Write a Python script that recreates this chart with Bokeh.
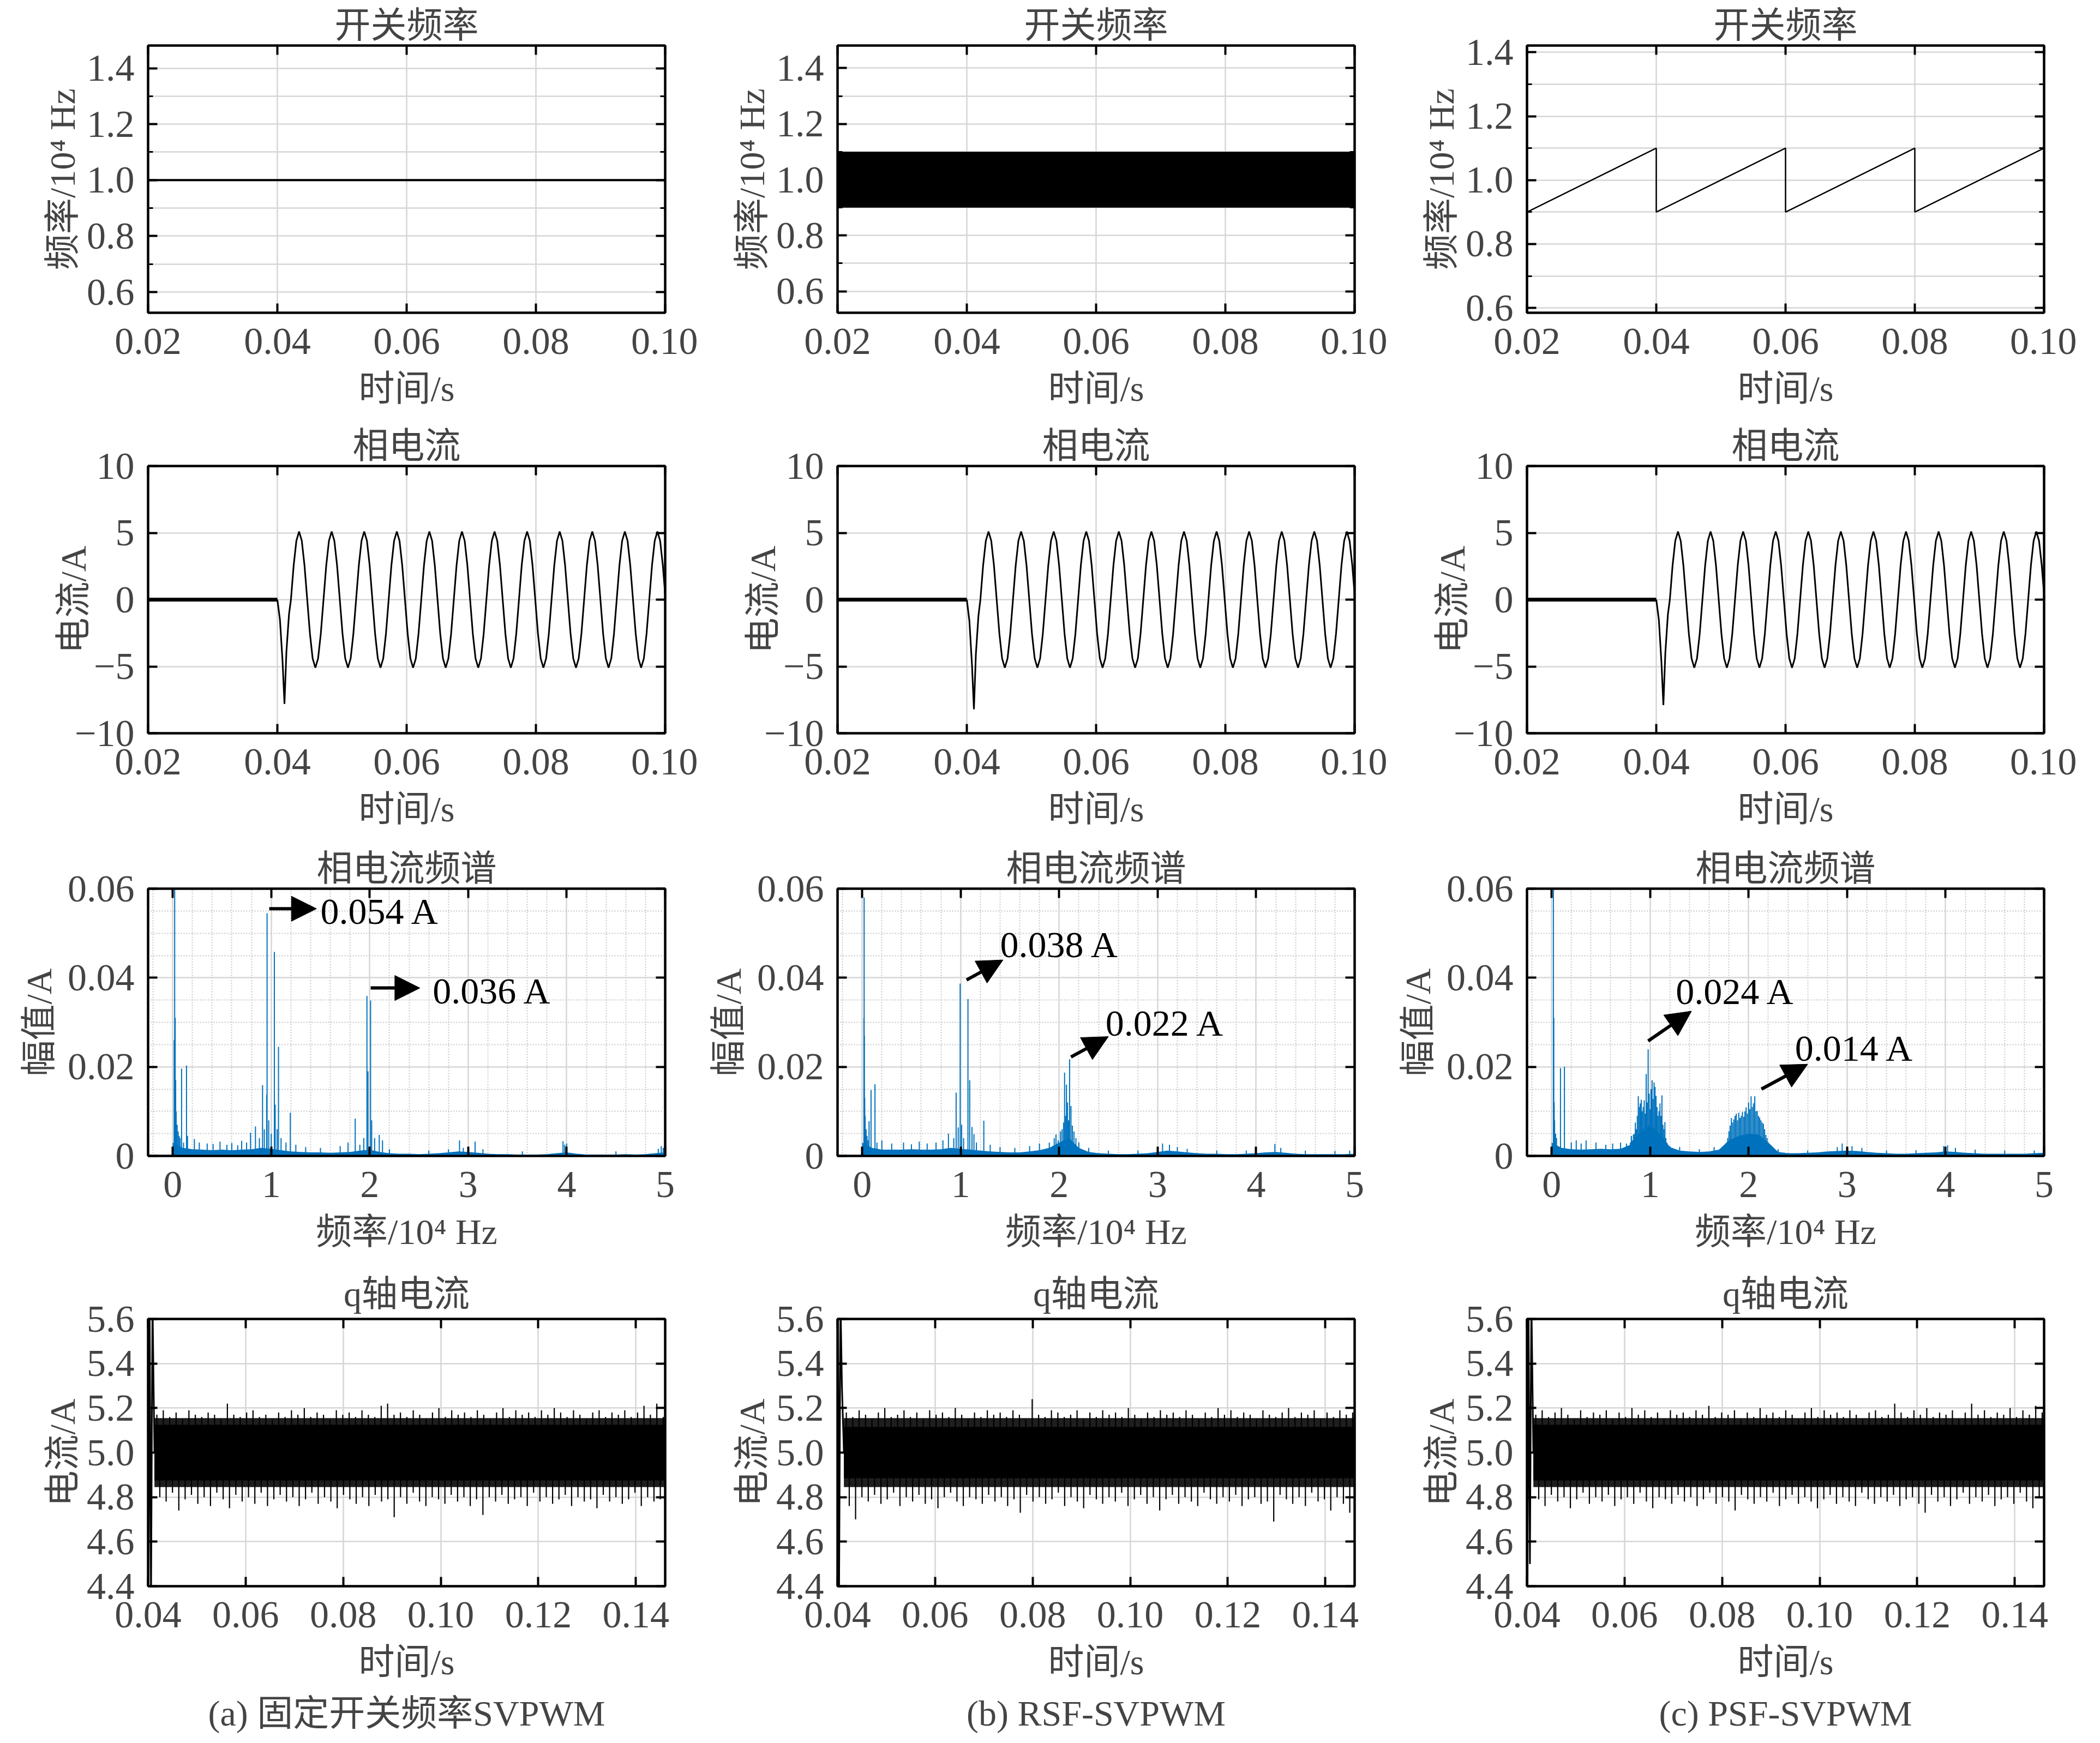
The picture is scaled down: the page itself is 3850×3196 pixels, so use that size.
import numpy as np
from bokeh.plotting import figure
from bokeh.layouts import column, row
from bokeh.models import (FixedTicker, LinearAxis, Range1d, Title, Label, Arrow,
                          NormalHead, CustomJSTickFormatter)
from bokeh.embed import file_html
from bokeh.resources import INLINE

# ======================= DATA =======================
# ---- row 1: switching frequency (10^4 Hz) ----
t_fs = [0.02, 0.10]
fs_fixed = [1.0, 1.0]
fs_rand_lo = [0.90, 0.90]
fs_rand_hi = [1.10, 1.10]
t_saw = [0.02, 0.04, 0.04, 0.06, 0.06, 0.08, 0.08, 0.10]
fs_saw = [0.90, 1.10, 0.90, 1.10, 0.90, 1.10, 0.90, 1.10]

# ---- row 2: phase current (A) ----
t_pre = [0.02, 0.04]
i_pre = [0.0, 0.0]
t_start = [0.0400, 0.0404, 0.0408, 0.0411, 0.0414, 0.0418]
i_start_a = [0.0, -1.5, -4.6, -7.8, -3.9, -1.1]
i_start_b = [0.0, -1.6, -4.9, -8.2, -4.1, -1.2]
i_start_c = [0.0, -1.5, -4.7, -7.9, -4.0, -1.1]
i_steady = [
    0.0, 2.55, 4.4, 5.1, 4.4, 2.55, 0.0, -2.55, -4.4, -5.1, -4.4, -2.55,
    0.0, 2.55, 4.4, 5.1, 4.4, 2.55, 0.0, -2.55, -4.4, -5.1, -4.4, -2.55,
    0.0, 2.55, 4.4, 5.1, 4.4, 2.55, 0.0, -2.55, -4.4, -5.1, -4.4, -2.55,
    0.0, 2.55, 4.4, 5.1, 4.4, 2.55, 0.0, -2.55, -4.4, -5.1, -4.4, -2.55,
    0.0, 2.55, 4.4, 5.1, 4.4, 2.55, 0.0, -2.55, -4.4, -5.1, -4.4, -2.55,
    0.0, 2.55, 4.4, 5.1, 4.4, 2.55, 0.0, -2.55, -4.4, -5.1, -4.4, -2.55,
    0.0, 2.55, 4.4, 5.1, 4.4, 2.55, 0.0, -2.55, -4.4, -5.1, -4.4, -2.55,
    0.0, 2.55, 4.4, 5.1, 4.4, 2.55, 0.0, -2.55, -4.4, -5.1, -4.4, -2.55,
    0.0, 2.55, 4.4, 5.1, 4.4, 2.55, 0.0, -2.55, -4.4, -5.1, -4.4, -2.55,
    0.0, 2.55, 4.4, 5.1, 4.4, 2.55, 0.0, -2.55, -4.4, -5.1, -4.4, -2.55,
    0.0, 2.55, 4.4, 5.1, 4.4, 2.55, 0.0, -2.55, -4.4, -5.1, -4.4, -2.55,
    0.0, 2.55, 4.4, 5.1, 4.4, 2.55, 0.0,
]
t_steady = np.round(0.0421 + 0.00042 * np.arange(len(i_steady)), 6)

# ---- row 3: phase current spectrum (freq 10^4 Hz, amplitude A) ----
floor_f = np.round(np.arange(0, 51) * 0.1, 1)
floor_a = [0.0030, 0.0018, 0.0015, 0.0014, 0.0013, 0.0014, 0.0013, 0.0014, 0.0015, 0.0018,
           0.0016, 0.0013, 0.0010, 0.0009, 0.0008, 0.0008, 0.0007, 0.0008, 0.0009, 0.0012,
           0.0014, 0.0009, 0.0006, 0.0005, 0.0005, 0.0004, 0.0005, 0.0006, 0.0008, 0.0010,
           0.0009, 0.0007, 0.0005, 0.0004, 0.0004, 0.0003, 0.0003, 0.0003, 0.0004, 0.0006,
           0.0008, 0.0005, 0.0003, 0.0003, 0.0003, 0.0003, 0.0004, 0.0003, 0.0004, 0.0006, 0.0008]
floor_b = [0.0030, 0.0018, 0.0014, 0.0014, 0.0014, 0.0015, 0.0014, 0.0014, 0.0015, 0.0018,
           0.0016, 0.0014, 0.0012, 0.0010, 0.0009, 0.0008, 0.0008, 0.0010, 0.0013, 0.0018,
           0.0030, 0.0040, 0.0018, 0.0009, 0.0006, 0.0005, 0.0004, 0.0004, 0.0005, 0.0006,
           0.0009, 0.0012, 0.0010, 0.0008, 0.0006, 0.0005, 0.0005, 0.0004, 0.0004, 0.0005,
           0.0006, 0.0008, 0.0009, 0.0007, 0.0005, 0.0004, 0.0004, 0.0004, 0.0004, 0.0004, 0.0005]
floor_c = [0.0030, 0.0018, 0.0015, 0.0014, 0.0015, 0.0016, 0.0015, 0.0016, 0.0025, 0.0055,
           0.0070, 0.0050, 0.0020, 0.0012, 0.0010, 0.0009, 0.0010, 0.0014, 0.0035, 0.0045,
           0.0050, 0.0048, 0.0030, 0.0009, 0.0006, 0.0006, 0.0007, 0.0008, 0.0010, 0.0011,
           0.0012, 0.0011, 0.0009, 0.0007, 0.0006, 0.0005, 0.0005, 0.0006, 0.0007, 0.0008,
           0.0010, 0.0009, 0.0007, 0.0006, 0.0005, 0.0005, 0.0005, 0.0005, 0.0005, 0.0006, 0.0007]

peaks_a = [(0.015, 0.026), (0.02, 0.065), (0.025, 0.031), (0.03, 0.017), (0.035, 0.010),
           (0.045, 0.007), (0.055, 0.0055), (0.065, 0.0045), (0.075, 0.004), (0.09, 0.0196),
           (0.11, 0.003), (0.14, 0.0203), (0.15, 0.0045), (0.22, 0.0038), (0.27, 0.003),
           (0.35, 0.0028), (0.41, 0.0027), (0.48, 0.0032), (0.55, 0.0025), (0.60, 0.0029),
           (0.66, 0.0024), (0.70, 0.0034), (0.75, 0.003), (0.79, 0.0052), (0.84, 0.0066),
           (0.88, 0.004), (0.912, 0.0159), (0.93, 0.006), (0.954, 0.0137), (0.958, 0.0545),
           (0.975, 0.008), (1.00, 0.005), (1.032, 0.0458), (1.04, 0.0115), (1.06, 0.006),
           (1.074, 0.0245), (1.10, 0.004), (1.15, 0.003), (1.194, 0.0097), (1.25, 0.0025),
           (1.35, 0.002), (1.50, 0.0018), (1.70, 0.0022), (1.78, 0.003), (1.853, 0.0084),
           (1.90, 0.0025), (1.94, 0.004), (1.972, 0.0359), (1.982, 0.019), (2.009, 0.0349),
           (2.02, 0.008), (2.05, 0.004), (2.097, 0.0047), (2.13, 0.0035), (2.20, 0.0015),
           (2.60, 0.0012), (2.80, 0.0015), (2.912, 0.0035), (2.95, 0.0018), (3.07, 0.0032),
           (3.15, 0.0015), (3.55, 0.001), (3.963, 0.0033), (3.98, 0.0025), (4.00, 0.0028),
           (4.50, 0.001), (4.93, 0.0016), (4.96, 0.0022), (4.98, 0.0018)]
peaks_b = [(0.018, 0.031), (0.02, 0.058), (0.022, 0.027), (0.026, 0.013), (0.03, 0.009),
           (0.04, 0.006), (0.05, 0.0045), (0.06, 0.0035), (0.07, 0.0078), (0.09, 0.0148),
           (0.13, 0.0161), (0.15, 0.003), (0.2, 0.0035), (0.3, 0.0028), (0.42, 0.003),
           (0.5, 0.0026), (0.58, 0.0032), (0.66, 0.0028), (0.75, 0.003), (0.82, 0.0035),
           (0.876, 0.005), (0.93, 0.004), (0.954, 0.0142), (0.975, 0.0064), (0.995, 0.0387),
           (1.01, 0.007), (1.03, 0.004), (1.074, 0.0352), (1.092, 0.017), (1.115, 0.0065),
           (1.135, 0.0049), (1.16, 0.003), (1.235, 0.0079), (1.3, 0.0025), (1.4, 0.002),
           (1.55, 0.0018), (1.7, 0.0022), (1.8, 0.0028), (1.9, 0.003), (1.95, 0.004),
           (1.968, 0.0048), (1.99, 0.0035), (2.014, 0.0055), (2.03, 0.006), (2.045, 0.0075),
           (2.055, 0.0187), (2.065, 0.009), (2.074, 0.016), (2.085, 0.012), (2.095, 0.008),
           (2.106, 0.0217), (2.12, 0.0112), (2.134, 0.0068), (2.15, 0.0055), (2.17, 0.004),
           (2.2, 0.003), (2.3, 0.0018), (2.5, 0.0012), (2.8, 0.0012), (3.05, 0.0028),
           (3.12, 0.0025), (3.2, 0.002), (3.3, 0.0016), (3.6, 0.0012), (3.9, 0.0012),
           (4.19, 0.0027), (4.25, 0.0018), (4.5, 0.0012), (4.8, 0.0011), (4.95, 0.0012)]
peaks_c = [(0.018, 0.065), (0.022, 0.031), (0.026, 0.012), (0.03, 0.008), (0.04, 0.005),
           (0.05, 0.004), (0.09, 0.0197), (0.13, 0.020), (0.2, 0.003), (0.25, 0.0035),
           (0.3, 0.0028), (0.35, 0.0035), (0.45, 0.003), (0.55, 0.0025), (0.62, 0.0028),
           (0.7, 0.003), (0.76, 0.0028), (1.3, 0.002), (1.5, 0.0015), (1.65, 0.002),
           (2.3, 0.0015), (2.6, 0.0012), (2.9, 0.002), (2.95, 0.0028), (3.05, 0.0022),
           (3.15, 0.0018), (3.4, 0.0012), (3.7, 0.0013), (3.98, 0.0022), (4.02, 0.0024),
           (4.1, 0.0018), (4.3, 0.0014), (4.6, 0.0012), (4.9, 0.0012)]
# PSF-SVPWM sideband clusters around 1 and 2 (x10^4 Hz)
cluster1_c = [0.0030, 0.0045, 0.0035, 0.0048, 0.0049, 0.0075, 0.0060, 0.0090, 0.0134, 0.0110,
              0.0118, 0.0126, 0.0100, 0.0110, 0.0125, 0.0095, 0.0184, 0.0120, 0.0239, 0.0140,
              0.0105, 0.0150, 0.0170, 0.0128, 0.0165, 0.0155, 0.0135, 0.0110, 0.0090, 0.0100,
              0.0118, 0.0090, 0.0136, 0.0070, 0.0060, 0.0076, 0.0040, 0.0030, 0.0025, 0.0020,
              0.0022]
cluster1_f = np.linspace(0.80, 1.20, len(cluster1_c))
cluster2_c = [0.0020, 0.0026, 0.0030, 0.0040, 0.0055, 0.0068, 0.0085, 0.0075, 0.0082, 0.0090,
              0.0095, 0.0080, 0.0097, 0.0085, 0.0090, 0.0099, 0.0088, 0.0100, 0.0109, 0.0095,
              0.0120, 0.0105, 0.0134, 0.0110, 0.0118, 0.0134, 0.0100, 0.0101, 0.0090, 0.0086,
              0.0080, 0.0075, 0.0072, 0.0060, 0.0047, 0.0040, 0.0030, 0.0025, 0.0020, 0.0015,
              0.0012]
cluster2_f = np.linspace(1.75, 2.25, len(cluster2_c))

# annotations: (arrow start, arrow end, text position, text)
ann_a = [((0.98, 0.0555), (1.46, 0.0555), (1.50, 0.0549), "0.054 A"),
         ((2.01, 0.0377), (2.51, 0.0377), (2.64, 0.0371), "0.036 A")]
ann_b = [((1.06, 0.0395), (1.43, 0.0440), (1.40, 0.0475), "0.038 A"),
         ((2.12, 0.0222), (2.50, 0.0268), (2.47, 0.0298), "0.022 A")]
ann_c = [((0.98, 0.0258), (1.42, 0.0325), (1.26, 0.0369), "0.024 A"),
         ((2.13, 0.0150), (2.60, 0.0206), (2.47, 0.0242), "0.014 A")]

# ---- row 4: q-axis current (A) ----
t_q_tr = [0.0401, 0.0403, 0.0406, 0.0409, 0.0413]
q_tr_a = [4.30, 5.70, 4.30, 5.70, 5.00]
q_tr_b = [5.70, 4.30, 5.70, 5.30, 5.00]
q_tr_c = [4.30, 5.70, 4.50, 5.70, 5.00]
t_core = [0.0413, 0.1460]
core_a = (4.875, 5.125)
core_b = (4.885, 5.115)
core_c = (4.875, 5.125)
fuzz = (4.845, 5.155)
q_up_a = [5.17, 5.19, 5.16, 5.18, 5.15, 5.19, 5.17, 5.16, 5.18, 5.17,
          5.15, 5.22, 5.17, 5.16, 5.18, 5.19, 5.16, 5.17, 5.15, 5.18,
          5.16, 5.19, 5.17, 5.20, 5.16, 5.18, 5.17, 5.15, 5.19, 5.17,
          5.18, 5.16, 5.19, 5.17, 5.16, 5.21, 5.22, 5.17, 5.18, 5.16,
          5.19, 5.17, 5.15, 5.18, 5.20, 5.16, 5.19, 5.17, 5.18, 5.16,
          5.19, 5.17, 5.15, 5.18, 5.20, 5.16, 5.19, 5.17, 5.18, 5.16,
          5.19, 5.17, 5.20, 5.18, 5.16, 5.19, 5.17, 5.15, 5.18, 5.19,
          5.16, 5.18, 5.17, 5.19, 5.16, 5.18, 5.21, 5.17, 5.22, 5.16]
q_lo_a = [4.80, 4.78, 4.82, 4.74, 4.79, 4.81, 4.77, 4.80, 4.76, 4.82,
          4.79, 4.75, 4.81, 4.78, 4.80, 4.77, 4.82, 4.76, 4.79, 4.81,
          4.78, 4.80, 4.76, 4.79, 4.82, 4.77, 4.80, 4.78, 4.75, 4.81,
          4.79, 4.77, 4.80, 4.76, 4.81, 4.78, 4.79, 4.71, 4.80, 4.77,
          4.82, 4.78, 4.76, 4.80, 4.79, 4.77, 4.81, 4.78, 4.80, 4.76,
          4.79, 4.72, 4.80, 4.78, 4.81, 4.77, 4.79, 4.80, 4.76, 4.82,
          4.78, 4.80, 4.77, 4.79, 4.81, 4.76, 4.80, 4.78, 4.79, 4.75,
          4.81, 4.78, 4.80, 4.77, 4.79, 4.82, 4.76, 4.80, 4.78, 4.79]
q_up_b = [5.18, 5.16, 5.19, 5.17, 5.15, 5.18, 5.20, 5.16, 5.17, 5.19,
          5.16, 5.18, 5.15, 5.19, 5.17, 5.18, 5.16, 5.20, 5.17, 5.15,
          5.18, 5.16, 5.19, 5.17, 5.18, 5.16, 5.19, 5.17, 5.15, 5.24,
          5.17, 5.16, 5.19, 5.18, 5.16, 5.17, 5.19, 5.15, 5.18, 5.16,
          5.19, 5.17, 5.18, 5.16, 5.20, 5.17, 5.15, 5.18, 5.16, 5.19,
          5.17, 5.18, 5.16, 5.19, 5.17, 5.15, 5.18, 5.16, 5.20, 5.17,
          5.19, 5.16, 5.18, 5.17, 5.15, 5.19, 5.17, 5.16, 5.18, 5.20,
          5.16, 5.18, 5.17, 5.19, 5.15, 5.18, 5.16, 5.19, 5.17, 5.18]
q_lo_b = [4.76, 4.70, 4.80, 4.78, 4.81, 4.77, 4.79, 4.82, 4.76, 4.80,
          4.78, 4.81, 4.77, 4.79, 4.75, 4.80, 4.82, 4.78, 4.76, 4.80,
          4.79, 4.77, 4.81, 4.78, 4.80, 4.76, 4.79, 4.73, 4.81, 4.78,
          4.80, 4.77, 4.79, 4.82, 4.76, 4.80, 4.78, 4.75, 4.81, 4.79,
          4.77, 4.80, 4.78, 4.82, 4.76, 4.79, 4.81, 4.77, 4.80, 4.74,
          4.79, 4.81, 4.77, 4.80, 4.78, 4.76, 4.82, 4.79, 4.77, 4.80,
          4.78, 4.81, 4.76, 4.79, 4.80, 4.77, 4.78, 4.69, 4.81, 4.79,
          4.77, 4.80, 4.76, 4.82, 4.78, 4.79, 4.74, 4.80, 4.77, 4.73]
q_up_c = [5.17, 5.19, 5.16, 5.18, 5.20, 5.17, 5.15, 5.19, 5.16, 5.18,
          5.17, 5.19, 5.15, 5.18, 5.16, 5.20, 5.17, 5.19, 5.16, 5.18,
          5.15, 5.19, 5.17, 5.18, 5.16, 5.19, 5.17, 5.21, 5.16, 5.18,
          5.17, 5.19, 5.15, 5.18, 5.16, 5.20, 5.17, 5.18, 5.16, 5.19,
          5.17, 5.15, 5.18, 5.20, 5.16, 5.19, 5.17, 5.18, 5.16, 5.19,
          5.17, 5.15, 5.18, 5.19, 5.16, 5.17, 5.22, 5.18, 5.16, 5.19,
          5.17, 5.20, 5.16, 5.18, 5.17, 5.19, 5.15, 5.18, 5.22, 5.17,
          5.19, 5.16, 5.18, 5.17, 5.20, 5.16, 5.19, 5.17, 5.21, 5.18]
q_lo_c = [4.79, 4.76, 4.81, 4.78, 4.80, 4.75, 4.79, 4.82, 4.77, 4.80,
          4.78, 4.81, 4.76, 4.79, 4.80, 4.77, 4.82, 4.78, 4.75, 4.80,
          4.79, 4.77, 4.81, 4.78, 4.80, 4.76, 4.79, 4.82, 4.77, 4.80,
          4.78, 4.74, 4.81, 4.79, 4.77, 4.80, 4.78, 4.82, 4.76, 4.79,
          4.81, 4.77, 4.80, 4.78, 4.75, 4.79, 4.81, 4.77, 4.80, 4.78,
          4.76, 4.82, 4.79, 4.77, 4.80, 4.78, 4.81, 4.76, 4.79, 4.80,
          4.77, 4.73, 4.81, 4.78, 4.80, 4.76, 4.79, 4.82, 4.77, 4.80,
          4.78, 4.81, 4.76, 4.79, 4.80, 4.77, 4.82, 4.78, 4.75, 4.80]

# ---- axes ranges & ticks ----
xr_t1 = (0.02, 0.10)
yr_fs = [(0.526, 1.481), (0.523, 1.481), (0.585, 1.421)]
yr_i = (-10, 10)
xr_sp = (-0.25, 5.0)
yr_sp = (0.0, 0.06)
xr_q = (0.04, 0.146)
yr_q = (4.4, 5.6)
xt_t1 = [0.02, 0.04, 0.06, 0.08, 0.10]
yt_fs = [0.6, 0.8, 1.0, 1.2, 1.4]
yt_fs_minor = [0.7, 0.9, 1.1, 1.3]
yt_i = [-10, -5, 0, 5, 10]
xt_sp = [0, 1, 2, 3, 4, 5]
xt_sp_minor = [round(-0.2 + 0.2 * k, 1) for k in range(27) if round(-0.2 + 0.2 * k, 1) not in xt_sp]
yt_sp = [0.0, 0.02, 0.04, 0.06]
yt_sp_minor = [0.005, 0.01, 0.015, 0.025, 0.03, 0.035, 0.045, 0.05, 0.055]
xt_q = [0.04, 0.06, 0.08, 0.10, 0.12, 0.14]
yt_q = [4.4, 4.6, 4.8, 5.0, 5.2, 5.4, 5.6]

titles = ["开关频率", "相电流", "相电流频谱", "q轴电流"]
xlabels = ["时间/s", "时间/s", "频率/10⁴ Hz", "时间/s"]
ylabels = ["频率/10⁴ Hz", "电流/A", "幅值/A", "电流/A"]
captions = ["(a) 固定开关频率SVPWM", "(b) RSF-SVPWM", "(c) PSF-SVPWM"]

# ======================= STYLE / LAYOUT =======================
SERIF = "Liberation Serif, Noto Sans CJK SC"
BLUE = "#0072BD"
GRID = "#d6d6d6"
FRAME_W, FRAME_H = 948, 490
COL_LEFT = [271, 256, 256]
COL_RIGHT = [60, 60, 60]
ROW_TOP = [83, 78, 78, 96]
ROW_BOTTOM = [203, 207, 203, 281]
YLAB_STANDOFF = [5, -37, 13, 5]
TITLE_STANDOFF = [2, 2, 2, 19]
TICK_FONT = "70px"
LABEL_FONT = "66px"

FMT2 = "return tick.toFixed(2);"
FMT1 = "return tick.toFixed(1);"
FMT0 = "return tick.toFixed(0);"
FMT_NEG = "return (tick < 0 ? '\u2212' : '') + Math.abs(tick).toFixed(0);"
FMT_SP = "return Math.abs(tick) < 1e-9 ? '0' : tick.toFixed(2);"
FMT_NONE = "return '';"


def make_fig(xr, yr, col, r):
    p = figure(frame_width=FRAME_W, frame_height=FRAME_H,
               x_range=Range1d(*xr), y_range=Range1d(*yr),
               output_backend="svg", toolbar_location=None,
               min_border_left=COL_LEFT[col], min_border_right=COL_RIGHT[col],
               min_border_top=ROW_TOP[r], min_border_bottom=ROW_BOTTOM[r])
    p.outline_line_color = "black"
    p.outline_line_width = 4
    p.background_fill_color = "white"
    p.border_fill_color = "white"
    return p


def style_axis(ax):
    ax.major_label_text_font = SERIF
    ax.major_label_text_font_size = TICK_FONT
    ax.major_tick_in = 17
    ax.major_tick_out = 0
    ax.major_tick_line_width = 4
    ax.axis_line_width = 4
    ax.minor_tick_in = 9
    ax.minor_tick_out = 0
    ax.minor_tick_line_width = 3
    ax.axis_label_text_font = SERIF
    ax.axis_label_text_font_size = LABEL_FONT
    ax.axis_label_text_font_style = "normal"


def setup(p, r, xt, yt, xfmt, yfmt, xminor=(), yminor=(), yminor_ticks=False,
          minor_grid=None):
    xtk = FixedTicker(ticks=list(xt), minor_ticks=list(xminor))
    ytk = FixedTicker(ticks=list(yt), minor_ticks=list(yminor))
    xa = p.xaxis[0]
    ya = p.yaxis[0]
    xa.ticker = xtk
    ya.ticker = ytk
    xa.formatter = CustomJSTickFormatter(code=xfmt)
    ya.formatter = CustomJSTickFormatter(code=yfmt)
    style_axis(xa)
    style_axis(ya)
    xa.major_label_standoff = 29
    ya.major_label_standoff = 25
    xa.axis_label = xlabels[r]
    ya.axis_label = ylabels[r]
    xa.axis_label_standoff = 24
    ya.axis_label_standoff = YLAB_STANDOFF[r]
    xa.minor_tick_line_color = None
    if not yminor_ticks:
        ya.minor_tick_line_color = None
    top = LinearAxis(ticker=xtk, formatter=CustomJSTickFormatter(code=FMT_NONE))
    right = LinearAxis(ticker=ytk, formatter=CustomJSTickFormatter(code=FMT_NONE))
    for ax in (top, right):
        style_axis(ax)
        ax.major_label_text_font_size = "1px"
        ax.major_label_standoff = 0
    top.minor_tick_line_color = None
    if not yminor_ticks:
        right.minor_tick_line_color = None
    p.add_layout(top, "above")
    p.add_layout(right, "right")
    p.xgrid.ticker = xtk
    p.ygrid.ticker = ytk
    for g in (p.xgrid[0], p.ygrid[0]):
        g.grid_line_color = GRID
        g.grid_line_width = 2.5
    if minor_grid == "solid_y":
        p.ygrid[0].minor_grid_line_color = GRID
        p.ygrid[0].minor_grid_line_width = 2.5
    elif minor_grid == "dotted":
        for g in (p.xgrid[0], p.ygrid[0]):
            g.minor_grid_line_color = "#c4c4c4"
            g.minor_grid_line_width = 2
            g.minor_grid_line_dash = "2 3"


def add_title(p, r):
    p.title.text = titles[r]
    p.title.align = "center"
    p.title.text_font = SERIF
    p.title.text_font_size = LABEL_FONT
    p.title.text_font_style = "normal"
    p.title.standoff = TITLE_STANDOFF[r]


figs = [[None] * 3 for _ in range(4)]

# ---- row 1 ----
for c in range(3):
    p = make_fig(xr_t1, yr_fs[c], c, 0)
    setup(p, 0, xt_t1, yt_fs, FMT2, FMT1, yminor=yt_fs_minor, yminor_ticks=True,
          minor_grid="solid_y")
    add_title(p, 0)
    figs[0][c] = p
figs[0][0].line(t_fs, fs_fixed, line_color="black", line_width=4)
figs[0][1].varea(x=t_fs, y1=fs_rand_lo, y2=fs_rand_hi, fill_color="black")
figs[0][2].line(t_saw, fs_saw, line_color="black", line_width=2.5)

# ---- row 2 ----
for c, i_start in enumerate([i_start_a, i_start_b, i_start_c]):
    p = make_fig(xr_t1, yr_i, c, 1)
    setup(p, 1, xt_t1, yt_i, FMT2, FMT_NEG)
    add_title(p, 1)
    p.line(t_pre, i_pre, line_color="black", line_width=7)
    p.line(np.concatenate([t_start, t_steady]), np.concatenate([i_start, i_steady]),
           line_color="black", line_width=3)
    figs[1][c] = p

# ---- row 3 ----
for c, (floor, peaks, ann) in enumerate([(floor_a, peaks_a, ann_a),
                                          (floor_b, peaks_b, ann_b),
                                          (floor_c, peaks_c, ann_c)]):
    p = make_fig(xr_sp, yr_sp, c, 2)
    setup(p, 2, xt_sp, yt_sp, FMT0, FMT_SP, xminor=xt_sp_minor, yminor=yt_sp_minor,
          minor_grid="dotted")
    add_title(p, 2)
    p.varea(x=floor_f, y1=np.zeros(len(floor_f)), y2=floor, fill_color=BLUE)
    pf = [f for f, a in peaks]
    pa = [a for f, a in peaks]
    p.segment(x0=pf, y0=np.zeros(len(pf)), x1=pf, y1=pa, line_color=BLUE, line_width=2)
    if c == 2:
        for cf, ca in ((cluster1_f, cluster1_c), (cluster2_f, cluster2_c)):
            p.segment(x0=cf, y0=np.zeros(len(cf)), x1=cf, y1=ca, line_color=BLUE,
                      line_width=2)
    for (xs, ys), (xe, ye), (xtx, ytx), txt in ann:
        p.add_layout(Arrow(end=NormalHead(size=46, fill_color="black", line_color="black"),
                           x_start=xs, y_start=ys, x_end=xe, y_end=ye,
                           line_color="black", line_width=6))
        p.add_layout(Label(x=xtx, y=ytx, text=txt, text_font=SERIF, text_font_size="68px",
                           text_baseline="middle", text_align="left", text_color="black"))
    figs[2][c] = p

# ---- row 4 ----
for c, (qtr, core, qup, qlo) in enumerate([(q_tr_a, core_a, q_up_a, q_lo_a),
                                            (q_tr_b, core_b, q_up_b, q_lo_b),
                                            (q_tr_c, core_c, q_up_c, q_lo_c)]):
    p = make_fig(xr_q, yr_q, c, 3)
    setup(p, 3, xt_q, yt_q, FMT2, FMT1)
    add_title(p, 3)
    t_up = np.linspace(0.0418, 0.1456, len(qup))
    t_lo = np.linspace(0.0424, 0.1450, len(qlo))
    p.varea(x=t_core, y1=[fuzz[0]] * 2, y2=[fuzz[1]] * 2, fill_color="#1e1e1e")
    p.varea(x=t_core, y1=[core[0]] * 2, y2=[core[1]] * 2, fill_color="black")
    p.segment(x0=t_up, y0=np.full(len(t_up), 5.0), x1=t_up, y1=qup,
              line_color="black", line_width=2.2)
    p.segment(x0=t_lo, y0=np.full(len(t_lo), 5.0), x1=t_lo, y1=qlo,
              line_color="black", line_width=2.2)
    p.line(t_q_tr, qtr, line_color="black", line_width=3)
    p.add_layout(Title(text=captions[c], align="center", text_font=SERIF,
                       text_font_size=LABEL_FONT, text_font_style="normal", standoff=33),
                 "below")
    figs[3][c] = p

layout = column(*[row(*fr) for fr in figs])
html = file_html(layout, INLINE, title="SVPWM comparison")
open("out.html", "w", encoding="utf-8").write(html)
